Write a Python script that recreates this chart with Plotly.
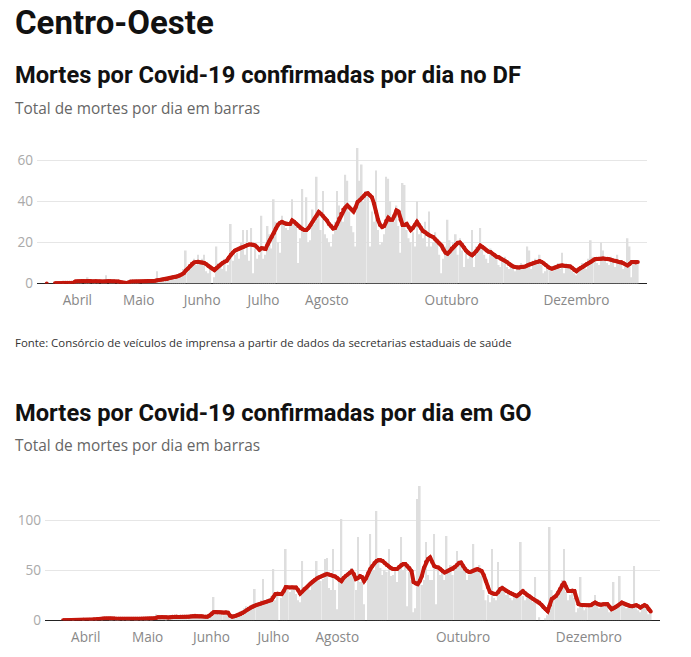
import pandas as pd
import plotly.graph_objects as go

# --- DF: deaths per day (bars) and 7-day average (line), from 17/03 to 31/12
df_daily = [
    0, 0, 0, 0, 0, 0, 0, 0, 1, 0, 0, 1, 0, 0, 1,  # mar
    1, 2, 1, 0, 1, 3, 1, 0, 2, 1, 1, 0, 1, 2, 4, 0, 1, 1, 2, 0, 1, 0, 0, 0, 0, 1, 2, 1, 1, 2,  # abr
    1, 0, 1, 2, 1, 1, 1, 2, 1, 6, 2, 1, 3, 2, 3, 3, 2, 4, 3, 4, 5, 3, 7, 16, 6, 8, 9, 12, 9, 14, 10,  # mai
    12, 14, 6, 5, 9, 0, 3, 18, 10, 8, 7, 12, 6, 9, 29, 11, 14, 15, 12, 20, 26, 14, 26, 11, 27, 5, 17, 12, 14, 33,  # jun
    12, 14, 28, 24, 17, 41, 30, 20, 15, 33, 30, 27, 26, 30, 41, 29, 30, 10, 22, 46, 25, 42, 20, 21, 36, 29, 52, 35, 26, 45, 24,  # jul
    22, 20, 18, 24, 30, 45, 38, 33, 30, 53, 50, 35, 28, 25, 18, 66, 50, 58, 40, 45, 44, 18, 35, 30, 55, 26, 19, 20, 24, 52, 51,  # ago
    40, 32, 30, 38, 28, 15, 49, 48, 26, 22, 20, 25, 18, 40, 24, 28, 22, 30, 18, 35, 18, 20, 25, 22, 14, 5, 12, 18, 31, 21,  # set
    18, 20, 24, 14, 22, 16, 8, 15, 12, 14, 26, 8, 18, 16, 27, 18, 14, 12, 10, 17, 14, 13, 12, 9, 8, 12, 13, 8, 7, 9, 8,  # out
    6, 7, 8, 10, 9, 8, 18, 16, 7, 11, 12, 10, 14, 9, 5, 6, 7, 8, 6, 9, 8, 10, 7, 15, 5, 10, 9, 8, 6, 5,  # nov
    4, 6, 8, 10, 9, 7, 12, 21, 13, 11, 10, 9, 20, 16, 12, 10, 9, 13, 11, 8, 14, 10, 9, 7, 8, 22, 18, 3, 10, 11, 10,  # dez
]
df_avg = [
    0, None, None, None, 0.1, 0.1, 0.1, 0.1, 0.3, 0.3, 0.3, 0.4, 0.4, 0.4, 1.0,
    1.1, 1.1, 1.2, 1.2, 1.1, 1.2, 1.2, 1.1, 1.1, 1.2, 1.1, 1.1, 1.0, 1.0, 1.1, 1.2, 1.2, 1.1, 1.1, 1.0, 0.9, 0.7, 0.4, 0.2, 0.2, 0.5, 0.9, 1.0, 1.0, 1.0,
    1.0, 1.0, 1.0, 1.0, 1.0, 1.1, 1.1, 1.2, 1.3, 1.5, 1.7, 1.8, 1.9, 2.0, 2.2, 2.5, 2.8, 3.0, 3.2, 3.5, 3.9, 4.3, 5.0, 6.3, 7.2, 8.5, 9.6, 10.2, 10.4, 10.6, 10.3,
    10.2, 10.0, 9.4, 8.5, 7.8, 7.2, 6.5, 7.5, 8.5, 9.2, 10.0, 10.6, 11.0, 12.5, 14.0, 15.0, 16.0, 16.5, 17.0, 17.5, 17.7, 18.2, 18.7, 19.0, 19.0, 18.8, 18.5, 17.5, 16.4, 17.2,
    17.0, 16.8, 19.0, 21.0, 22.6, 24.5, 26.8, 28.5, 29.5, 30.0, 29.5, 29.0, 29.0, 29.0, 30.7, 30.0, 29.0, 28.0, 27.0, 26.5, 26.0, 26.0, 27.0, 28.5, 30.0, 31.7, 33.0, 34.8, 34.0, 33.0, 31.7,
    30.7, 29.0, 28.0, 26.8, 27.0, 29.0, 31.7, 34.0, 36.0, 37.0, 38.0, 37.0, 36.0, 35.0, 37.0, 39.7, 40.5, 41.5, 42.5, 43.7, 44.0, 43.0, 42.0, 39.0, 34.8, 31.0, 28.5, 27.5, 28.0, 30.5, 32.0,
    31.0, 31.0, 33.0, 35.6, 35.0, 31.0, 28.5, 28.5, 29.0, 27.5, 26.0, 27.0, 28.5, 30.0, 28.5, 27.0, 25.5, 25.0, 24.0, 23.5, 23.0, 22.6, 21.5, 20.5, 19.5, 18.5, 16.5, 15.0, 14.5, 15.5,
    17.0, 18.0, 19.0, 19.8, 20.0, 19.0, 17.5, 16.0, 15.0, 14.3, 13.7, 14.5, 15.7, 17.0, 18.5, 17.8, 17.0, 16.0, 15.5, 15.3, 14.5, 13.8, 13.0, 12.8, 12.0, 11.5, 11.0, 10.4, 9.5, 8.8, 8.3,
    8.0, 7.8, 7.8, 8.0, 8.0, 8.3, 8.8, 9.2, 9.6, 10.0, 10.3, 10.5, 10.9, 10.5, 9.8, 9.0, 8.0, 7.5, 7.2, 7.5, 8.0, 8.5, 8.8, 8.8, 8.6, 8.5, 8.4, 8.3, 7.5, 6.5,
    6.0, 6.8, 7.5, 8.0, 8.8, 9.5, 9.9, 10.5, 11.2, 11.8, 12.0, 12.0, 12.0, 12.2, 12.0, 12.0, 11.8, 11.5, 11.2, 11.0, 10.8, 10.5, 10.4, 9.8, 9.2, 8.8, 9.5, 10.4, 10.4, 10.2, 10.4,
]

# --- GO: from 21/03 to 31/12
go_daily = [
    0, 0, 0, 0, 0, 1, 0, 0, 0, 0, 1,  # mar
    0, 0, 1, 1, 2, 1, 2, 3, 1, 2, 3, 2, 1, 1, 2, 1, 1, 3, 1, 2, 1, 1, 2, 2, 1, 1, 2, 1, 2, 1,  # abr
    1, 2, 1, 2, 6, 4, 3, 2, 3, 1, 2, 5, 4, 3, 3, 2, 4, 5, 3, 3, 4, 5, 6, 4, 3, 4, 3, 3, 4, 3, 6,  # mai
    9, 23, 6, 7, 8, 9, 5, 8, 6, 2, 3, 5, 6, 7, 9, 10, 12, 14, 12, 15, 16, 31, 14, 17, 20, 41, 18, 19, 22, 24,  # jun
    51, 20, 25, 0, 22, 28, 71, 30, 28, 34, 31, 26, 20, 18, 59, 30, 33, 35, 30, 38, 40, 59, 45, 39, 41, 61, 62, 32, 30, 71, 30,  # jul
    11, 38, 101, 40, 45, 42, 50, 52, 44, 30, 83, 38, 45, 16, 0, 42, 86, 55, 50, 109, 58, 52, 45, 50, 48, 71, 44, 45, 50, 38, 55,  # ago
    83, 50, 55, 14, 48, 40, 8, 12, 121, 134, 35, 40, 78, 45, 40, 40, 86, 16, 50, 45, 48, 40, 84, 50, 55, 45, 52, 69, 60, 58,  # set
    55, 50, 40, 45, 48, 76, 52, 50, 55, 44, 30, 20, 25, 18, 71, 22, 20, 58, 30, 35, 28, 25, 30, 22, 20, 26, 22, 25, 78, 24, 20,  # out
    28, 22, 20, 18, 43, 0, 3, 0, 0, 2, 5, 93, 30, 25, 22, 30, 35, 40, 71, 28, 20, 25, 30, 22, 8, 12, 43, 14, 10, 12,  # nov
    14, 12, 18, 25, 16, 12, 15, 18, 14, 15, 8, 10, 38, 12, 16, 44, 18, 14, 12, 16, 13, 14, 54, 12, 10, 8, 14, 16, 12, 6, 8,  # dez
]
go_avg = [
    0, 0, 0, 0, 0, 0.1, 0.1, 0.1, 0.1, 0.1, 0.3,
    0.1, 0.1, 0.3, 0.5, 0.8, 1.0, 1.2, 1.4, 1.6, 1.8, 2.0, 2.0, 1.8, 1.7, 1.6, 1.5, 1.5, 1.5, 1.5, 1.5, 1.5, 1.5, 1.5, 1.5, 1.5, 1.5, 1.5, 1.5, 1.5, 1.5,
    1.5, 1.5, 1.5, 1.6, 2.2, 2.8, 3.0, 3.2, 3.0, 2.8, 2.6, 3.0, 3.3, 3.5, 3.3, 3.2, 3.3, 3.5, 3.5, 3.4, 3.5, 3.8, 4.2, 4.3, 4.2, 4.0, 3.8, 3.6, 3.5, 3.5, 4.5,
    6.0, 8.0, 8.2, 8.0, 7.8, 7.6, 7.5, 7.8, 7.5, 4.5, 3.5, 3.8, 4.5, 5.2, 6.0, 7.2, 8.5, 10.0, 11.3, 12.6, 13.5, 14.5, 15.3, 16.0, 16.7, 17.4, 18.0, 18.7, 19.3, 20.0,
    23.0, 26.0, 26.3, 26.0, 26.0, 29.0, 33.0, 32.8, 32.5, 32.8, 32.6, 32.6, 30.0, 26.6, 28.5, 31.0, 32.6, 34.5, 36.5, 38.5, 40.0, 41.5, 42.6, 43.5, 44.5, 45.5, 46.0, 45.5, 45.0, 44.0, 43.5,
    42.0, 40.0, 39.0, 42.0, 44.0, 45.5, 47.0, 49.0, 46.0, 41.0, 42.0, 44.0, 43.0, 39.0, 42.0, 47.0, 51.0, 54.0, 57.0, 59.0, 60.0, 60.0, 59.0, 57.0, 55.0, 53.5, 52.0, 51.0, 51.0, 51.0, 53.0,
    55.0, 56.0, 56.0, 54.0, 52.0, 49.0, 38.0, 36.5, 36.0, 39.0, 44.0, 52.0, 58.0, 61.0, 62.6, 58.0, 54.0, 53.0, 52.6, 51.0, 49.0, 47.6, 48.5, 49.5, 50.5, 51.0, 53.0, 55.0, 57.0, 57.6,
    54.0, 51.0, 49.0, 48.0, 48.5, 49.5, 50.5, 51.0, 50.0, 49.0, 45.0, 39.0, 33.0, 28.0, 27.0, 26.0, 26.0, 28.0, 31.0, 32.0, 30.5, 29.0, 28.0, 27.0, 26.0, 25.0, 24.0, 25.5, 27.5, 29.0, 27.0,
    25.0, 24.0, 22.5, 21.0, 20.0, 18.8, 17.6, 15.5, 13.0, 11.0, 9.0, 15.0, 21.0, 22.5, 24.0, 27.0, 31.0, 35.0, 37.6, 33.0, 29.0, 29.0, 29.5, 29.0, 22.0, 16.0, 15.5, 15.0, 15.0, 15.0,
    15.0, 15.0, 16.5, 17.6, 16.5, 15.5, 15.5, 15.8, 16.0, 16.0, 13.5, 11.0, 12.0, 13.0, 14.5, 16.0, 17.6, 16.5, 15.5, 14.8, 14.2, 14.0, 14.5, 15.0, 14.0, 12.6, 13.8, 15.0, 14.0, 11.0, 8.6,
]

month_ticks = ["2020-04-01", "2020-05-01", "2020-06-01", "2020-07-01", "2020-08-01", "2020-10-01", "2020-12-01"]
month_names = ["Abril", "Maio", "Junho", "Julho", "Agosto", "Outubro", "Dezembro"]

df_dates = pd.date_range("2020-03-17", periods=len(df_daily))
go_dates = pd.date_range("2020-03-21", periods=len(go_daily))

bar_gray = "#dedede"
red = "#c4170c"
font = "Open Sans"
head_font = "Roboto"  # narrower bold face for the headings
# body margin is 8px; the capture comes out squeezed ~1.5% vertically, so lay out in page pixels
OFF = 8
SY = 0.985
W = 691 - 2 * OFF
H = round(657 / SY) - 2 * OFF


def px_x(px):
    return (px - OFF) / W


def px_y(px):
    return 1 - (px / SY - OFF) / H


fig = go.Figure()
fig.add_trace(go.Bar(x=df_dates, y=df_daily, marker_color=bar_gray, marker_line_width=0,
                     xaxis="x", yaxis="y", hoverinfo="skip"))
fig.add_trace(go.Scatter(x=df_dates, y=df_avg, mode="lines+markers",
                         line=dict(color=red, width=4), marker=dict(color=red, size=4),
                         xaxis="x", yaxis="y"))
fig.add_trace(go.Bar(x=go_dates, y=go_daily, marker_color=bar_gray, marker_line_width=0,
                     xaxis="x2", yaxis="y2", hoverinfo="skip"))
fig.add_trace(go.Scatter(x=go_dates, y=go_avg, mode="lines+markers",
                         line=dict(color=red, width=4), marker=dict(color=red, size=4),
                         xaxis="x2", yaxis="y2"))

xcommon = dict(type="date", range=["2020-03-12 06:00", "2021-01-04 12:00"],
               tickvals=month_ticks, ticktext=month_names, showgrid=False, zeroline=False,
               showline=False, ticks="", tickfont=dict(family=font, size=13.6, color="#888"),
               ticklabelstandoff=7, fixedrange=True)
ycommon = dict(showgrid=True, gridcolor="#e6e6e6", gridwidth=1, zeroline=True,
               zerolinecolor="#222", zerolinewidth=1, showline=False, ticks="",
               tickfont=dict(family=font, size=13.6, color="#aaa"), ticklabelstandoff=3,
               fixedrange=True)

fig.update_layout(
    width=W, height=H,
    margin=dict(l=0, r=0, t=0, b=0),
    paper_bgcolor="white", plot_bgcolor="white",
    showlegend=False, bargap=0.2,
    font=dict(family=font),
    xaxis=dict(xcommon, domain=[px_x(37), px_x(647)], anchor="y"),
    yaxis=dict(ycommon, domain=[px_y(283), px_y(143.6)], range=[0, 68], tickvals=[0, 20, 40, 60], anchor="x"),
    xaxis2=dict(xcommon, domain=[px_x(45), px_x(660)], anchor="y2"),
    yaxis2=dict(ycommon, domain=[px_y(619.3), px_y(477.3)], range=[0, 142], tickvals=[0, 50, 100], anchor="x2"),
)

texts = [
    ("Centro-Oeste", 14, 22, 33, "#111", head_font, True),
    ("Mortes por Covid-19 confirmadas por dia no DF", 14, 75, 23.7, "#111", head_font, True),
    ("Total de mortes por dia em barras", 14, 108, 15.4, "#666", font, False),
    ("Fonte: Consórcio de veículos de imprensa a partir de dados da secretarias estaduais de saúde", 14, 342, 11.4, "#333", font, False),
    ("Mortes por Covid-19 confirmadas por dia em GO", 14, 412, 23.7, "#111", head_font, True),
    ("Total de mortes por dia em barras", 14, 445, 15.4, "#666", font, False),
]
for text, x, y, size, color, family, bold in texts:
    fig.add_annotation(text=f"<b>{text}</b>" if bold else text, xref="paper", yref="paper",
                       x=px_x(x), y=px_y(y), xanchor="left", yanchor="middle", showarrow=False,
                       borderpad=0, font=dict(family=family, size=size, color=color))

fig.write_html("out.html")
